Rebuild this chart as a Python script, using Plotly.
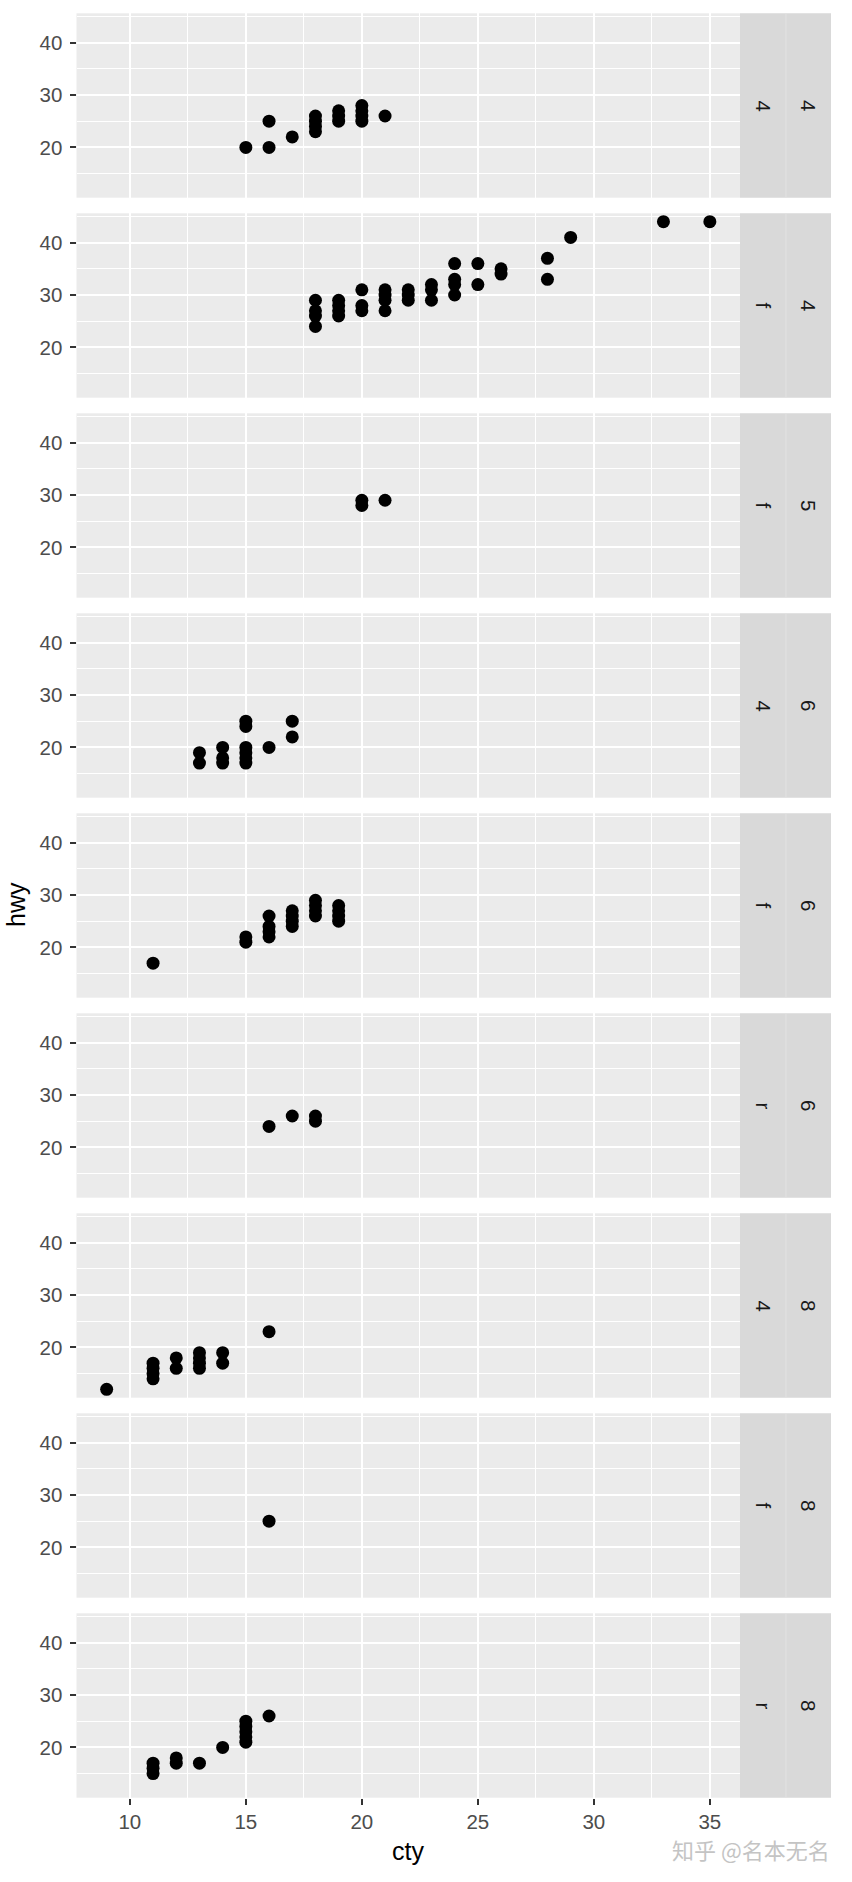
import plotly.graph_objects as go

# ---------------- data (mpg: cty vs hwy, faceted by cyl + drv) ----------------
cyl_labels = ["4", "4", "5", "6", "6", "6", "8", "8", "8"]
drv_labels = ["4", "f", "f", "4", "f", "r", "4", "f", "r"]

p1_cty = [15, 16, 16, 17, 18, 18, 18, 18, 19, 19, 19, 20, 20, 20, 20, 21]
p1_hwy = [20, 20, 25, 22, 23, 24, 25, 26, 25, 26, 27, 25, 26, 27, 28, 26]

p2_cty = [18, 18, 18, 18, 19, 19, 19, 19, 20, 20, 20, 21, 21, 21, 21, 22, 22, 22,
          23, 23, 23, 24, 24, 24, 24, 25, 25, 26, 26, 28, 28, 29, 33, 35]
p2_hwy = [24, 26, 27, 29, 26, 27, 28, 29, 27, 28, 31, 27, 29, 30, 31, 29, 30, 31,
          29, 31, 32, 30, 32, 33, 36, 32, 36, 34, 35, 33, 37, 41, 44, 44]

p3_cty = [20, 20, 21]
p3_hwy = [28, 29, 29]

p4_cty = [13, 13, 14, 14, 14, 15, 15, 15, 15, 15, 15, 16, 17, 17]
p4_hwy = [17, 19, 17, 18, 20, 17, 18, 19, 20, 24, 25, 20, 22, 25]

p5_cty = [11, 15, 15, 16, 16, 16, 16, 17, 17, 17, 17, 18, 18, 18, 18, 19, 19, 19, 19]
p5_hwy = [17, 21, 22, 22, 23, 24, 26, 24, 25, 26, 27, 26, 27, 28, 29, 25, 26, 27, 28]

p6_cty = [16, 17, 18, 18]
p6_hwy = [24, 26, 25, 26]

p7_cty = [9, 11, 11, 11, 11, 12, 12, 13, 13, 13, 13, 14, 14, 16]
p7_hwy = [12, 14, 15, 16, 17, 16, 18, 16, 17, 18, 19, 17, 19, 23]

p8_cty = [16]
p8_hwy = [25]

p9_cty = [11, 11, 11, 12, 12, 13, 14, 15, 15, 15, 15, 15, 16]
p9_hwy = [15, 16, 17, 17, 18, 17, 20, 21, 22, 23, 24, 25, 26]

panels_cty = [p1_cty, p2_cty, p3_cty, p4_cty, p5_cty, p6_cty, p7_cty, p8_cty, p9_cty]
panels_hwy = [p1_hwy, p2_hwy, p3_hwy, p4_hwy, p5_hwy, p6_hwy, p7_hwy, p8_hwy, p9_hwy]

x_ticks = [10, 15, 20, 25, 30, 35]
y_ticks = [20, 30, 40]

# ---------------- layout geometry (page pixels) ----------------
W, H = 852, 1882
PX_L, PX_R = 76.5, 740.0          # panel left/right
STRIP_MID, STRIP_R = 786.0, 831.0  # strip divider / right edge
TOP0, PANEL_H, PITCH = 13.3, 184.4, 200.0

def fx(px):
    return px / W

def fy(py):
    return 1 - py / H

FONT = "Liberation Sans, Arial, sans-serif"
TICK_COLOR = "#4D4D4D"
FS = 20.5

fig = go.Figure()
shapes = []
annotations = []

n = len(panels_cty)
for i in range(n):
    k = "" if i == 0 else str(i + 1)
    top = TOP0 + PITCH * i
    bot = top + PANEL_H
    fig.add_trace(go.Scatter(
        x=panels_cty[i], y=panels_hwy[i], mode="markers",
        marker=dict(color="black", size=13, line=dict(width=0)),
        xaxis="x" + k, yaxis="y" + k, showlegend=False, hoverinfo="x+y",
    ))
    last = (i == n - 1)
    fig.layout["xaxis" + k] = dict(
        domain=[fx(PX_L), fx(PX_R)], anchor="y" + k,
        range=[7.7, 36.3], tickvals=x_ticks,
        showticklabels=last, ticks="outside" if last else "",
        ticklen=6, tickwidth=2, tickcolor="#333333",
        tickfont=dict(family=FONT, size=FS, color=TICK_COLOR),
        showgrid=True, gridcolor="white", gridwidth=2.2,
        minor=dict(tick0=7.5, dtick=5, showgrid=True, gridcolor="white", gridwidth=1.1, ticks=""),
        zeroline=False, showline=False,
        matches=None if i == 0 else "x",
    )
    fig.layout["yaxis" + k] = dict(
        domain=[fy(bot), fy(top)], anchor="x" + k,
        range=[10.4, 45.6], tickvals=y_ticks,
        ticks="outside", ticklen=6, tickwidth=2, tickcolor="#333333",
        tickfont=dict(family=FONT, size=FS, color=TICK_COLOR),
        ticklabelstandoff=3,
        showgrid=True, gridcolor="white", gridwidth=2.2,
        minor=dict(tick0=15, dtick=10, showgrid=True, gridcolor="white", gridwidth=1.1, ticks=""),
        zeroline=False, showline=False,
    )
    # strips
    shapes.append(dict(type="rect", xref="paper", yref="paper",
                       x0=fx(PX_R), x1=fx(STRIP_R), y0=fy(bot), y1=fy(top),
                       fillcolor="#D9D9D9", line=dict(width=0), layer="below"))
    shapes.append(dict(type="line", xref="paper", yref="paper",
                       x0=fx(STRIP_MID), x1=fx(STRIP_MID), y0=fy(bot), y1=fy(top),
                       line=dict(color="#E2E2E2", width=1)))
    cy = fy((top + bot) / 2)
    annotations.append(dict(text=drv_labels[i], x=fx((PX_R + STRIP_MID) / 2), y=cy,
                            xref="paper", yref="paper", showarrow=False, textangle=90,
                            font=dict(family=FONT, size=FS, color="#1A1A1A"),
                            xanchor="center", yanchor="middle"))
    annotations.append(dict(text=cyl_labels[i], x=fx((STRIP_MID + STRIP_R) / 2), y=cy,
                            xref="paper", yref="paper", showarrow=False, textangle=90,
                            font=dict(family=FONT, size=FS, color="#1A1A1A"),
                            xanchor="center", yanchor="middle"))

# axis titles
annotations.append(dict(text="cty", x=fx((PX_L + PX_R) / 2), y=fy(1851),
                        xref="paper", yref="paper", showarrow=False,
                        font=dict(family=FONT, size=25, color="black"),
                        xanchor="center", yanchor="middle"))
annotations.append(dict(text="hwy", x=fx(16), y=fy(905),
                        xref="paper", yref="paper", showarrow=False, textangle=-90,
                        font=dict(family=FONT, size=25, color="black"),
                        xanchor="center", yanchor="middle"))
# watermark
annotations.append(dict(text="知乎 @名本无名", x=fx(832), y=fy(1849),
                        xref="paper", yref="paper", showarrow=False,
                        font=dict(family="Noto Sans CJK SC", size=22, color="#C4C4C4"),
                        xanchor="right", yanchor="middle"))

fig.update_layout(
    width=W, height=H,
    margin=dict(l=0, r=0, t=0, b=0),
    paper_bgcolor="white",
    plot_bgcolor="#EBEBEB",
    shapes=shapes,
    annotations=annotations,
    showlegend=False,
)

fig.write_html("out.html", config={"displayModeBar": False},
               post_script="document.body.style.margin='0';")
